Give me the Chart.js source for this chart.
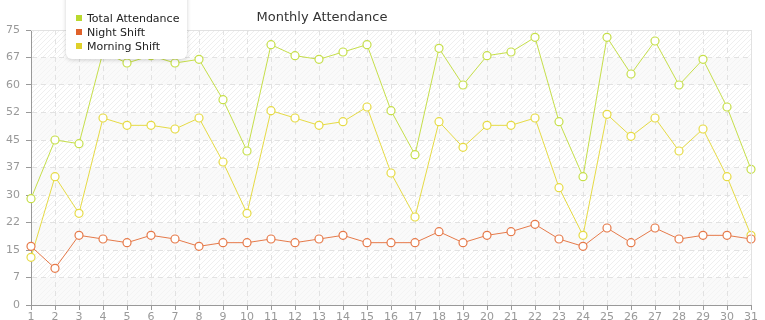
<!DOCTYPE html>
<html>
<head>
<meta charset="utf-8">
<script src="https://cdn.jsdelivr.net/npm/chart.js@4"></script>
<style>
  body { margin: 0; background: #fff; font-family: "DejaVu Sans", sans-serif; }
  #wrap { position: relative; width: 765px; height: 320px; overflow: hidden; }
  #title { position: absolute; left: 0; width: 644px; top: 9px; text-align: center; font-size: 13px; color: #333; }
  #legend { position: absolute; left: 66px; top: -6px; width: 121px; padding: 18px 0 5px 0; background: #fff;
            border-radius: 0 0 6px 6px; box-shadow: 0 1px 4px rgba(0,0,0,0.18); font-size: 11px; color: #222; }
  #legend div { height: 14px; line-height: 14px; padding-left: 10px; white-space: nowrap; }
  #legend span { display: inline-block; width: 6px; height: 6px; margin-right: 5px; vertical-align: 1px; }
</style>
</head>
<body>
<div id="wrap">
  <canvas id="attendanceChart" width="765" height="320"></canvas>
  <div id="title">Monthly Attendance</div>
  <div id="legend"></div>
</div>
<script>
// Days of the month
const days = ['1','2','3','4','5','6','7','8','9','10','11','12','13','14','15','16',
              '17','18','19','20','21','22','23','24','25','26','27','28','29','30','31'];

// Series values
const totalAttendance = [29, 45, 44, 69, 66, 68, 66, 67, 56, 42, 71, 68, 67, 69, 71, 53,
                         41, 70, 60, 68, 69, 73, 50, 35, 73, 63, 72, 60, 67, 54, 37];
const nightShift = [16, 10, 19, 18, 17, 19, 18, 16, 17, 17, 18, 17, 18, 19, 17, 17,
                    17, 20, 17, 19, 20, 22, 18, 16, 21, 17, 21, 18, 19, 19, 18];
const morningShift = [13, 35, 25, 51, 49, 49, 48, 51, 39, 25, 53, 51, 49, 50, 54, 36,
                      24, 50, 43, 49, 49, 51, 32, 19, 52, 46, 51, 42, 48, 35, 19];

const seriesNames = ['Total Attendance', 'Night Shift', 'Morning Shift'];
const seriesColors = ['#c6df4a', '#e67a4a', '#e6db45'];
const markerColors = ['#b9d92e', '#e0622a', '#dfd02a'];

// build the little legend box
const legend = document.getElementById('legend');
seriesNames.forEach((name, i) => {
    const row = document.createElement('div');
    row.innerHTML = '<span style="background:' + markerColors[i] + '"></span>' + name;
    legend.appendChild(row);
});

// hatch pattern for the plot background
function makeHatch(bg, line) {
    const c = document.createElement('canvas');
    c.width = 5; c.height = 5;
    const g = c.getContext('2d');
    g.fillStyle = bg;
    g.fillRect(0, 0, 5, 5);
    g.strokeStyle = line;
    g.lineWidth = 1;
    g.beginPath();
    g.moveTo(-1, 6); g.lineTo(6, -1);
    g.moveTo(-1, 1); g.lineTo(1, -1);
    g.moveTo(4, 6); g.lineTo(6, 4);
    g.stroke();
    return g.createPattern(c, 'repeat');
}

const plotBackground = {
    id: 'plotBackground',
    beforeDraw(chart) {
        const { ctx, chartArea: a, scales: { y } } = chart;
        const strong = makeHatch('#ffffff', '#efefef');
        const weak = makeHatch('#fafafa', '#f4f4f4');
        ctx.save();
        for (let i = 0; i < 10; i++) {
            const top = y.getPixelForValue(75 - i * 7.5);
            const bot = y.getPixelForValue(75 - (i + 1) * 7.5);
            ctx.fillStyle = i % 2 === 0 ? strong : weak;
            ctx.fillRect(a.left, top, a.right - a.left, bot - top);
        }
        ctx.restore();
    },
    afterDraw(chart) {
        const { ctx, chartArea: a } = chart;
        ctx.save();
        ctx.strokeStyle = '#e2e2e2';
        ctx.lineWidth = 1;
        ctx.beginPath();
        ctx.moveTo(a.left, a.top + 0.5);
        ctx.lineTo(a.right + 0.5, a.top + 0.5);
        ctx.lineTo(a.right + 0.5, a.bottom);
        ctx.stroke();
        ctx.restore();
    }
};

function makeDataset(i, values) {
    return {
        label: seriesNames[i],
        data: values,
        borderColor: seriesColors[i],
        borderWidth: 1,
        pointRadius: 4,
        pointBorderWidth: 1.2,
        pointBackgroundColor: '#ffffff',
        pointBorderColor: seriesColors[i],
        tension: 0,
        fill: false
    };
}

const ctx = document.getElementById('attendanceChart').getContext('2d');
const chart = new Chart(ctx, {
    type: 'line',
    data: {
        labels: days,
        datasets: [
            makeDataset(0, totalAttendance),
            makeDataset(1, nightShift),
            makeDataset(2, morningShift)
        ]
    },
    options: {
        responsive: false,
        animation: false,
        layout: { padding: { top: 30, right: 14, left: 0, bottom: 0 } },
        plugins: {
            legend: { display: false },
            title: { display: false },
            tooltip: { enabled: false }
        },
        scales: {
            x: {
                offset: false,
                grid: {
                    color: '#e2e2e2',
                    tickColor: '#999',
                    tickLength: 5,
                    tickBorderDash: []
                },
                border: { color: '#999', width: 1, dash: [5, 4] },
                ticks: {
                    color: '#999',
                    font: { family: 'DejaVu Sans', size: 11 },
                    padding: 1,
                    autoSkip: false,
                    maxRotation: 0
                },
                afterFit(scale) { scale.height = 15; }
            },
            y: {
                min: 0,
                max: 75,
                grid: {
                    color: '#e2e2e2',
                    tickColor: '#999',
                    tickLength: 5,
                    tickBorderDash: []
                },
                border: { color: '#999', width: 1, dash: [5, 4] },
                ticks: {
                    stepSize: 7.5,
                    color: '#999',
                    font: { family: 'DejaVu Sans', size: 11 },
                    padding: 6,
                    callback: (v) => Math.floor(v)
                },
                afterFit(scale) { scale.width = 31; }
            }
        }
    },
    plugins: [plotBackground]
});
</script>
</body>
</html>
